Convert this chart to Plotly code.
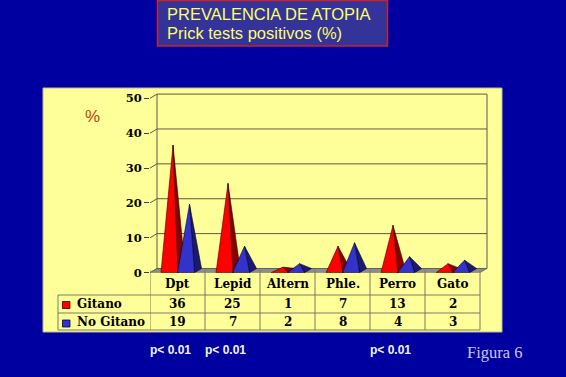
import plotly.graph_objects as go

# ---- data ----
categories = ["Dpt", "Lepid", "Altern", "Phle.", "Perro", "Gato"]
gitano = [36, 25, 1, 7, 13, 2]
no_gitano = [19, 7, 2, 8, 4, 3]
series_names = ["Gitano", "No Gitano"]
y_ticks = [0, 10, 20, 30, 40, 50]
p_labels = ["p< 0.01", "p< 0.01", "", "", "p< 0.01", ""]

W, H = 566, 377
BG = "#0000a0"
PANEL = "#ffff99"
RED, RED_D = "#ff0000", "#8a0000"
BLUE, BLUE_D = "#3333cc", "#1a1a70"

X0_PX, PX_X = 150, 55
Y0_PX, PX_Y = 272.7, 3.488
DX, DY = 7 / PX_X, 4.2 / PX_Y
XMAX, YMAX = 5.65, 51.5

def px(x):
    return x / W

def py(y):
    return 1 - y / H

fig = go.Figure()
fig.add_trace(go.Scatter(
    x=[-0.5, 5.5, 5.5 + DX, -0.5 + DX, -0.5], y=[0, 0, DY, DY, 0],
    fill="toself", fillcolor="#8c8c8c", line=dict(color="#555555", width=0.6),
    mode="lines", hoverinfo="skip", showlegend=False))

def pyramids(values, left_off, width):
    fx, fy, sx, sy = [], [], [], []
    for i, v in enumerate(values):
        L = i + left_off
        R = L + width
        ax = (L + R) / 2 + DX / 2
        ay = v + DY / 2
        fx += [L, R, ax, L, None]
        fy += [0, 0, ay, 0, None]
        sx += [R, R + DX, ax, R, None]
        sy += [0, DY, ay, 0, None]
    return fx, fy, sx, sy

for vals, off, cf, cs, nm in [(gitano, -0.30, RED, RED_D, series_names[0]),
                              (no_gitano, 0.0, BLUE, BLUE_D, series_names[1])]:
    fx, fy, sx, sy = pyramids(vals, off, 0.31)
    edge = "#300000" if cf == RED else "#000030"
    fig.add_trace(go.Scatter(x=sx, y=sy, fill="toself", fillcolor=cs, mode="lines",
                             line=dict(color=edge, width=0.6),
                             hoverinfo="skip", showlegend=False, name=nm))
    fig.add_trace(go.Scatter(x=fx, y=fy, fill="toself", fillcolor=cf, mode="lines",
                             line=dict(color=edge, width=0.6),
                             hoverinfo="skip", showlegend=False, name=nm))

shapes = []
shapes.append(dict(type="rect", xref="paper", yref="paper", x0=px(43), x1=px(502),
                   y0=py(332), y1=py(88), fillcolor=PANEL,
                   line=dict(color="#b8b8a0", width=1), layer="below"))
shapes.append(dict(type="rect", xref="paper", yref="paper", x0=px(157.5), x1=px(387.5),
                   y0=py(46), y1=py(0.5), fillcolor="#333399",
                   line=dict(color="#cc2222", width=1.5), layer="below"))

GRID = "#5a5a48"
for t in y_ticks:
    shapes.append(dict(type="line", xref="x", yref="y", x0=-0.5 + DX, x1=5.5 + DX,
                       y0=t + DY, y1=t + DY, line=dict(color=GRID, width=1), layer="below"))
    shapes.append(dict(type="line", xref="x", yref="y", x0=-0.5, x1=-0.5 + DX,
                       y0=t, y1=t + DY, line=dict(color=GRID, width=1), layer="below"))
for xe in (-0.5 + DX, 5.5 + DX):
    shapes.append(dict(type="line", xref="x", yref="y", x0=xe, x1=xe, y0=DY, y1=50 + DY,
                       line=dict(color=GRID, width=1), layer="below"))

TL = "#7a7a66"
for yl in (295, 313, 330):
    shapes.append(dict(type="line", xref="paper", yref="paper", x0=px(58), x1=px(X0_PX + 6 * PX_X),
                       y0=py(yl), y1=py(yl), line=dict(color=TL, width=1)))
for k in range(len(categories) + 1):
    shapes.append(dict(type="line", xref="x", yref="paper", x0=k - 0.5, x1=k - 0.5,
                       y0=py(330), y1=py(270), line=dict(color=TL, width=1)))
shapes.append(dict(type="line", xref="paper", yref="paper", x0=px(58), x1=px(58),
                   y0=py(330), y1=py(295), line=dict(color=TL, width=1)))
shapes.append(dict(type="rect", xref="paper", yref="paper", x0=px(62.5), x1=px(70),
                   y0=py(308.5), y1=py(301.5), fillcolor=RED, line=dict(color="#400000", width=0.8)))
shapes.append(dict(type="rect", xref="paper", yref="paper", x0=px(62.5), x1=px(70),
                   y0=py(327), y1=py(320), fillcolor=BLUE, line=dict(color="#000040", width=0.8)))

ann = []
TF = dict(family="DejaVu Serif", size=12, color="black")

def add_ann(x, y, text, font, xref="paper", xanchor="center"):
    ann.append(dict(x=x, y=y, xref=xref, yref="paper", text=text, showarrow=False,
                    font=font, xanchor=xanchor, yanchor="middle"))

for i, c in enumerate(categories):
    add_ann(i, py(284), f"<b>{c}</b>", TF, xref="x")
    add_ann(i, py(304), f"<b>{gitano[i]}</b>", TF, xref="x")
    add_ann(i, py(321.5), f"<b>{no_gitano[i]}</b>", TF, xref="x")
    if p_labels[i]:
        add_ann(i - 0.13, py(350), f"<b>{p_labels[i]}</b>",
                dict(family="Liberation Sans", size=12, color="#f4f4f4"), xref="x")
add_ann(px(75), py(304), f"<b>{series_names[0]}</b>", TF, xanchor="left")
add_ann(px(75), py(321.5), f"<b>{series_names[1]}</b>", TF, xanchor="left")
add_ann(px(165), py(13.5), "PREVALENCIA DE ATOPIA",
        dict(family="Liberation Sans", size=16.5, color="#ffff66"), xanchor="left")
add_ann(px(165), py(33), "Prick tests positivos (%)",
        dict(family="Liberation Sans", size=16.5, color="#ffff66"), xanchor="left")
add_ann(px(92), py(117), "%", dict(family="Liberation Sans", size=17, color="#c04010"))
add_ann(px(494), py(352), "Figura 6", dict(family="Liberation Serif", size=16.5, color="#c8c8ee"))

fig.update_layout(
    width=W, height=H, autosize=False,
    margin=dict(l=0, r=0, t=0, b=0, pad=0, autoexpand=False),
    paper_bgcolor=BG, plot_bgcolor="rgba(0,0,0,0)",
    shapes=shapes, annotations=ann, showlegend=False,
    xaxis=dict(domain=[px(X0_PX), px(X0_PX + (XMAX + 0.5) * PX_X)], range=[-0.5, XMAX],
               showgrid=False, zeroline=False, showticklabels=False, ticks="",
               fixedrange=True, automargin=False),
    yaxis=dict(domain=[py(Y0_PX), py(Y0_PX - YMAX * PX_Y)], range=[0, YMAX],
               tickvals=y_ticks, ticktext=[f"<b>{t}</b>" for t in y_ticks],
               ticks="outside", ticklen=5, tickcolor="#404040",
               tickfont=dict(family="DejaVu Serif", size=11.5, color="black"),
               showgrid=False, zeroline=False, showline=False, fixedrange=True,
               automargin=False),
)

post = ("var de=document.documentElement;de.style.margin='0';de.style.padding='0';"
        "de.style.overflow='hidden';de.style.background='" + BG + "';"
        "document.body.style.margin='0';document.body.style.padding='0';"
        "document.body.style.overflow='hidden';")
fig.write_html("out.html", config={"displayModeBar": False, "responsive": False},
               post_script=post)
